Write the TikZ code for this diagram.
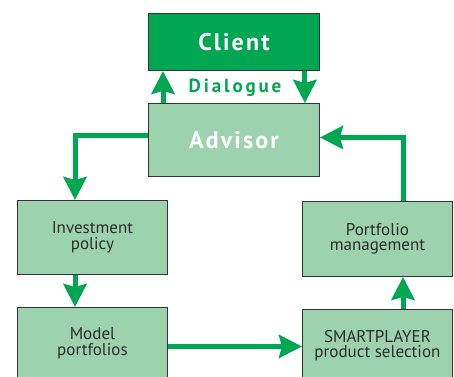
\documentclass[tikz,border=0pt]{standalone}
\usepackage{fontspec}
\setmainfont{PT Sans}
\usetikzlibrary{arrows.meta}
\definecolor{dgreen}{HTML}{00A651}
\definecolor{lgreen}{HTML}{9CD3AE}
\definecolor{bord}{HTML}{333333}
\definecolor{txt}{HTML}{2B2B2B}
\begin{document}
\begin{tikzpicture}[x=1pt,y=-1pt,
  box/.style={draw=bord, line width=0.9pt, fill=lgreen, inner sep=0pt, anchor=north west,
    text=txt, align=center, font=\fontsize{17}{15.5}\selectfont},
  topbox/.style={box, text=white, font=\fontsize{24}{26}\selectfont\bfseries\addfontfeatures{LetterSpace=9}},
  arr/.style={draw=dgreen, line width=5pt, -{Stealth[width=23pt,length=23pt,inset=3pt]}}]
\useasboundingbox (0,0) rectangle (454,376);
\clip (0,0) rectangle (454,376);
\node[topbox, fill=dgreen, minimum width=171pt, minimum height=57pt] (client) at (148,13) {Client};
\node[topbox, minimum width=171pt, minimum height=73pt] (advisor) at (148,103) {Advisor};
\node[box, minimum width=150pt, minimum height=74pt] (invest) at (17,200) {Investment\\policy};
\node[box, minimum width=150pt, minimum height=72pt] (model) at (17,307) {Model\\portfolios};
\node[box, minimum width=150pt, minimum height=75pt] (pmgmt) at (302,201) {Portfolio\\management};
\node[box, minimum width=150pt, minimum height=72pt] (smart) at (302,309) {SMARTPLAYER\\product selection};
\node[text=dgreen, font=\fontsize{19}{20}\selectfont\bfseries\addfontfeatures{LetterSpace=15}] (dlg) at (235,88) {Dialogue};
\coordinate (lx) at (75,0);
\coordinate (rx) at (403,0);
\draw[arr] ([xshift=15pt]advisor.north west) -- ([xshift=15pt]client.south west);
\draw[arr] ([xshift=-15pt]client.south east) -- ([xshift=-15pt]advisor.north east);
\draw[arr] ([yshift=4.5pt]advisor.west) -| (lx |- invest.north);
\draw[arr] (lx |- invest.south) -- (lx |- model.north);
\draw[arr] ([yshift=-3pt]model.east) -- ([yshift=-3pt]model.east -| smart.west);
\draw[arr] (rx |- smart.north) -- (rx |- pmgmt.south);
\draw[arr] (rx |- pmgmt.north) |- ([yshift=2.5pt]advisor.east);
\end{tikzpicture}
\end{document}
